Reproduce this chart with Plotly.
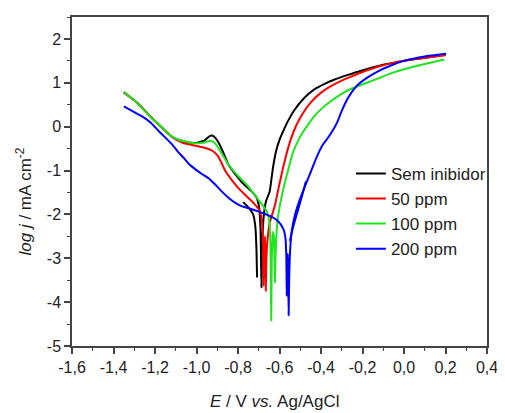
import plotly.graph_objects as go

series_names = ["Sem inibidor", "50 ppm", "100 ppm", "200 ppm"]
series_colors = ["#000000", "#ff0000", "#1ee61e", "#0000ff"]

# Sem inibidor (None separates the short initial segment)
e_sem = [-1.35, -1.30, -1.26, -1.22, -1.18, -1.15, -1.117, -1.08, -1.05, -1.00, -0.96, -0.935, -0.925,
         -0.91, -0.894, -0.87, -0.846, -0.82, -0.798, -0.77, -0.735, -0.71, -0.698, -0.691, -0.687,
         -0.684, -0.680, -0.674, -0.665, -0.647, -0.632, -0.616, -0.600, -0.58, -0.56, -0.528, -0.48,
         -0.432, -0.38, -0.337, -0.27, -0.21, -0.10, 0.0, 0.10, 0.20,
         None,
         -0.775, -0.75, -0.727, -0.716, -0.711, -0.708]
j_sem = [0.78, 0.60, 0.42, 0.22, 0.04, -0.10, -0.23, -0.31, -0.35, -0.37, -0.31, -0.21, -0.20,
         -0.25, -0.36, -0.60, -0.87, -1.04, -1.17, -1.32, -1.47, -1.62, -1.85, -2.4, -3.66,
         -2.9, -2.3, -1.95, -1.70, -1.47, -0.95, -0.55, -0.30, -0.08, 0.12, 0.38, 0.66,
         0.85, 0.98, 1.07, 1.18, 1.27, 1.41, 1.50, 1.57, 1.64,
         None,
         -1.72, -1.84, -2.0, -2.3, -2.8, -3.44]

# 50 ppm
e_50 = [-1.35, -1.30, -1.26, -1.22, -1.18, -1.15, -1.117, -1.08, -1.05, -1.00, -0.97, -0.942, -0.92,
        -0.90, -0.88, -0.862, -0.83, -0.798, -0.76, -0.719, -0.695, -0.684, -0.679, -0.677, -0.674,
        -0.670, -0.667, -0.666, -0.663, -0.658, -0.648, -0.635, -0.62, -0.60, -0.58, -0.565, -0.545,
        -0.52, -0.488, -0.45, -0.401, -0.35, -0.305, -0.25, -0.21, -0.13, -0.05, 0.05, 0.20]
j_50 = [0.79, 0.60, 0.42, 0.22, 0.04, -0.10, -0.24, -0.34, -0.39, -0.44, -0.47, -0.51, -0.56,
        -0.65, -0.82, -1.00, -1.22, -1.40, -1.58, -1.77, -1.92, -2.2, -2.8, -3.62, -2.9,
        -2.5, -3.0, -3.74, -3.0, -2.6, -2.2, -2.0, -1.75, -1.30, -0.88, -0.60, -0.28,
        0.02, 0.30, 0.55, 0.77, 0.93, 1.04, 1.15, 1.23, 1.36, 1.46, 1.54, 1.63]

# 100 ppm
e_100 = [-1.35, -1.30, -1.26, -1.22, -1.179, -1.15, -1.117, -1.08, -1.053, -1.02, -0.99, -0.96, -0.935,
         -0.915, -0.895, -0.87, -0.85, -0.83, -0.79, -0.751, -0.703, -0.68, -0.66, -0.648, -0.643,
         -0.640, -0.637, -0.632, -0.627, -0.624, -0.622, -0.619, -0.614, -0.608, -0.596, -0.584, -0.57,
         -0.56, -0.548, -0.536, -0.515, -0.497, -0.465, -0.432, -0.39, -0.353, -0.31, -0.274, -0.202,
         -0.13, -0.06, 0.0, 0.10, 0.195]
j_100 = [0.79, 0.60, 0.41, 0.21, 0.04, -0.10, -0.23, -0.31, -0.34, -0.37, -0.38, -0.36, -0.32,
         -0.36, -0.48, -0.68, -0.84, -0.96, -1.17, -1.36, -1.66, -1.80, -1.95, -2.2, -2.8,
         -4.42, -3.0, -2.4, -2.5, -3.0, -3.55, -2.9, -2.4, -2.08, -1.75, -1.47, -1.20,
         -1.02, -0.80, -0.60, -0.37, -0.20, 0.03, 0.24, 0.44, 0.58, 0.72, 0.82, 0.96,
         1.09, 1.22, 1.31, 1.43, 1.53]

# 200 ppm (None separates the short side branch)
e_200 = [-1.35, -1.30, -1.26, -1.22, -1.18, -1.15, -1.117, -1.09, -1.06, -1.037, -1.00, -0.974, -0.94,
         -0.91, -0.88, -0.846, -0.815, -0.783, -0.74, -0.703, -0.67, -0.64, -0.615, -0.595, -0.58,
         -0.571, -0.567, -0.565, -0.562, -0.560, -0.558, -0.556, -0.553, -0.548, -0.54, -0.525, -0.505,
         -0.485, -0.462, -0.445, -0.43, -0.409, -0.39, -0.369, -0.345, -0.321, -0.30, -0.274, -0.25,
         -0.226, -0.186, -0.13, -0.06, 0.0, 0.10, 0.203,
         None,
         -0.55, -0.535, -0.52, -0.505, -0.49, -0.473]
j_200 = [0.46, 0.33, 0.23, 0.09, -0.11, -0.25, -0.41, -0.57, -0.72, -0.85, -0.99, -1.08, -1.18,
         -1.32, -1.47, -1.62, -1.73, -1.81, -1.87, -1.93, -1.99, -2.05, -2.12, -2.22, -2.35,
         -2.55, -3.0, -3.85, -3.1, -2.9, -3.3, -4.30, -3.4, -2.75, -2.35, -2.0, -1.70,
         -1.45, -1.18, -0.98, -0.80, -0.57, -0.40, -0.27, -0.10, 0.11, 0.36, 0.62, 0.80,
         0.94, 1.09, 1.25, 1.40, 1.50, 1.60, 1.66,
         None,
         -2.6, -2.3, -2.05, -1.8, -1.55, -1.25]

x_tick_vals = [-1.6, -1.4, -1.2, -1.0, -0.8, -0.6, -0.4, -0.2, 0.0, 0.2, 0.4]
x_tick_text = ["-1,6", "-1,4", "-1,2", "-1,0", "-0,8", "-0,6", "-0,4", "-0,2", "0,0", "0,2", "0,4"]
y_tick_vals = [-5, -4, -3, -2, -1, 0, 1, 2]
y_tick_text = ["-5", "-4", "-3", "-2", "-1", "0", "1", "2"]

xs = [e_sem, e_50, e_100, e_200]
ys = [j_sem, j_50, j_100, j_200]

fig = go.Figure()
for i in range(4):
    fig.add_trace(go.Scatter(
        x=xs[i], y=ys[i], mode="lines", name=series_names[i],
        line=dict(color=series_colors[i], width=2, shape="spline", smoothing=0.4),
        legendgroup=series_names[i], connectgaps=False))

font_family = "Liberation Sans, Arial, sans-serif"
axis_common = dict(
    showline=True, linecolor="#444", linewidth=1.5, mirror=True,
    ticks="outside", ticklen=6, tickwidth=1.5, tickcolor="#444",
    showgrid=False, zeroline=False,
    tickfont=dict(family=font_family, size=16, color="#222"),
)

fig.update_xaxes(range=[-1.6, 0.4], tickvals=x_tick_vals, ticktext=x_tick_text,
                 minor=dict(dtick=0.1, ticks="outside", ticklen=3, tickcolor="#444", tickwidth=1),
                 **axis_common)
fig.update_yaxes(range=[-5, 2.5], tickvals=y_tick_vals, ticktext=y_tick_text,
                 minor=dict(dtick=0.5, ticks="outside", ticklen=3, tickcolor="#444", tickwidth=1),
                 **axis_common)

fig.update_layout(
    width=497, height=405,
    margin=dict(l=64, r=14, t=7, b=67),
    paper_bgcolor="white", plot_bgcolor="white",
    font=dict(family=font_family, size=16, color="#222"),
    showlegend=True,
    legend=dict(x=0.672, y=0.578, xanchor="left", yanchor="top",
                bgcolor="rgba(0,0,0,0)", traceorder="grouped", tracegroupgap=0,
                font=dict(family=font_family, size=17, color="#222")),
    annotations=[
        dict(text="<i>log j</i> / mA cm<sup>-2</sup>", xref="paper", yref="paper",
             x=-0.115, y=0.44, textangle=-90, showarrow=False,
             xanchor="center", yanchor="middle",
             font=dict(family=font_family, size=17, color="#222")),
        dict(text="<i>E</i> / V <i>vs.</i> Ag/AgCl", xref="paper", yref="paper",
             x=0.489, y=-0.169, showarrow=False, xanchor="center", yanchor="middle",
             font=dict(family=font_family, size=17, color="#222")),
    ],
)

fig.write_html("out.html")
